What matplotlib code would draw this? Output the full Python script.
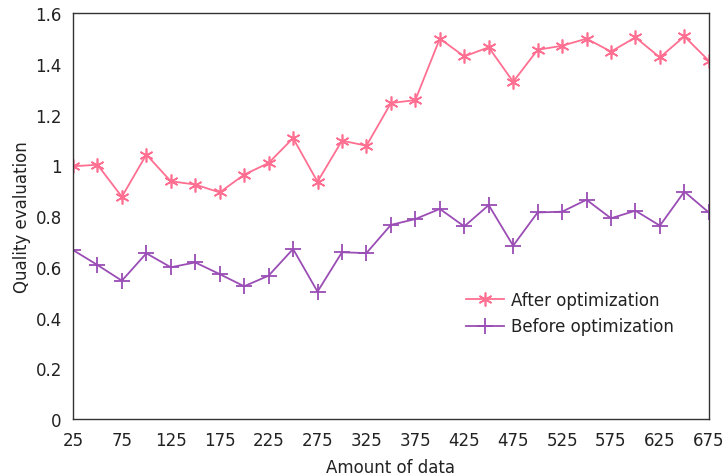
import matplotlib
matplotlib.use("Agg")
import matplotlib.pyplot as plt

amount = list(range(25, 676, 25))
after_opt = [0.996, 1.002, 0.876, 1.042, 0.937, 0.924, 0.893, 0.963, 1.009, 1.107,
             0.935, 1.097, 1.077, 1.245, 1.257, 1.499, 1.429, 1.465, 1.329, 1.455,
             1.471, 1.499, 1.448, 1.504, 1.425, 1.508, 1.412]
before_opt = [0.666, 0.607, 0.545, 0.653, 0.598, 0.617, 0.571, 0.523, 0.565, 0.670,
              0.502, 0.657, 0.654, 0.765, 0.788, 0.828, 0.759, 0.843, 0.683, 0.814,
              0.817, 0.864, 0.791, 0.821, 0.762, 0.896, 0.814]
xticks = list(range(25, 676, 50))
yticks = [0, 0.2, 0.4, 0.6, 0.8, 1, 1.2, 1.4, 1.6]
ytick_labels = ["0", "0.2", "0.4", "0.6", "0.8", "1", "1.2", "1.4", "1.6"]

plt.rcParams['font.family'] = ['DejaVu Sans']
fig = plt.figure(figsize=(7.24, 4.77), dpi=100)
ax = fig.add_axes([0.1008, 0.1195, 0.8782, 0.8511])

pink = '#FF6F91'
purple = '#9A4DB5'
ax.plot(amount, after_opt, color=pink, lw=1.3, marker=(6, 2, 0), markersize=10,
        markeredgewidth=1.2, label='After optimization')
ax.plot(amount, before_opt, color=purple, lw=1.3, marker='+', markersize=12,
        markeredgewidth=1.3, label='Before optimization')

ax.set_xlim(25, 675)
ax.set_ylim(0, 1.6)
ax.set_xticks(xticks)
ax.set_yticks(yticks)
ax.set_yticklabels(ytick_labels)
ax.tick_params(length=0, labelsize=12, colors='#222222')
ax.tick_params(axis='x', pad=9)
ax.tick_params(axis='y', pad=8)
for s in ax.spines.values():
    s.set_color('#333333')
    s.set_linewidth(1.0)
ax.set_xlabel('Amount of data', fontsize=12, color='#222222', labelpad=6)
ax.set_ylabel('Quality evaluation', fontsize=12, color='#222222', labelpad=3)

leg = ax.legend(loc='upper left', bbox_to_anchor=(0.618, 0.315), frameon=False,
                fontsize=12, handlelength=2.3, handletextpad=0.4, labelspacing=0.5,
                borderaxespad=0, borderpad=0)
for t in leg.get_texts():
    t.set_color('#222222')

fig.savefig('out.png', dpi=100)
